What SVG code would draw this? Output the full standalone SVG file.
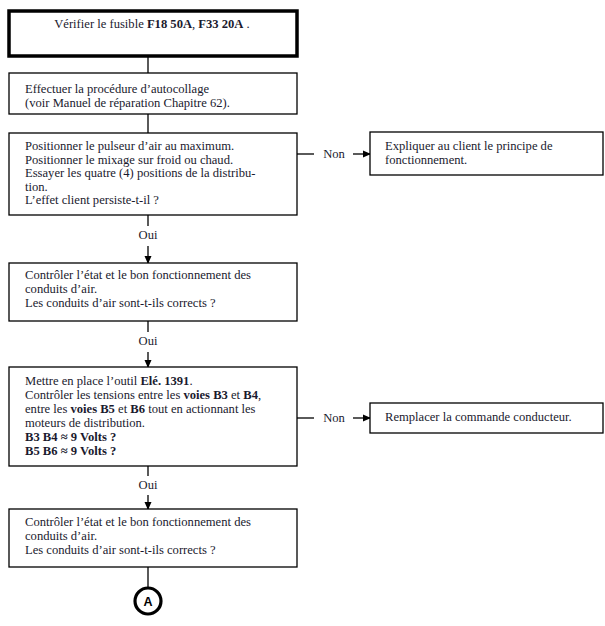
<svg xmlns="http://www.w3.org/2000/svg" width="605" height="626" viewBox="0 0 605 626">
<style>
.box{fill:#fff;stroke:#000;stroke-width:1.3}
.thick{fill:#fff;stroke:#000;stroke-width:3.5}
text{font-family:"Liberation Serif","Times New Roman",serif;font-size:12.6px;fill:#1a1a2e}
.b{font-weight:bold}
.c{stroke:#000;stroke-width:1.3;fill:none}
</style>
<defs>
<marker id="ah" markerWidth="8" markerHeight="8" refX="7" refY="4" orient="auto" markerUnits="userSpaceOnUse">
<path d="M0,0.5 L8,4 L0,7.5 Z" fill="#000"/>
</marker>
</defs>
<rect width="605" height="626" fill="#fff"/>
<g id="connectors">
<line class="c" x1="148" y1="56" x2="148" y2="73"/>
<line class="c" x1="148" y1="114" x2="148" y2="133"/>
<line class="c" x1="148" y1="215" x2="148" y2="226"/>
<line class="c" x1="148" y1="246" x2="148" y2="263" marker-end="url(#ah)"/>
<line class="c" x1="148" y1="321" x2="148" y2="332"/>
<line class="c" x1="148" y1="352" x2="148" y2="367" marker-end="url(#ah)"/>
<line class="c" x1="148" y1="466" x2="148" y2="476"/>
<line class="c" x1="148" y1="495" x2="148" y2="509" marker-end="url(#ah)"/>
<line class="c" x1="148" y1="567" x2="148" y2="588"/>
<line class="c" x1="297" y1="154" x2="314" y2="154"/>
<line class="c" x1="353" y1="154" x2="370" y2="154" marker-end="url(#ah)"/>
<line class="c" x1="297" y1="418" x2="314" y2="418"/>
<line class="c" x1="353" y1="418" x2="370" y2="418" marker-end="url(#ah)"/>
<text x="148" y="239" text-anchor="middle">Oui</text>
<text x="148" y="345" text-anchor="middle">Oui</text>
<text x="148" y="489" text-anchor="middle">Oui</text>
<text x="334" y="158" text-anchor="middle">Non</text>
<text x="334" y="422" text-anchor="middle">Non</text>
</g>
<g id="n1">
<rect class="thick" x="9" y="11" width="288" height="45"/>
<text x="152" y="28" text-anchor="middle">Vérifier le fusible <tspan class="b">F18 50A</tspan>, <tspan class="b">F33 20A</tspan> .</text>
</g>
<g id="n2">
<rect class="box" x="9" y="73" width="288" height="41"/>
<text x="25" y="93">Effectuer la procédure d’autocollage</text>
<text x="25" y="106.5">(voir Manuel de réparation Chapitre 62).</text>
</g>
<g id="n3">
<rect class="box" x="9" y="133" width="288" height="82"/>
<text x="25" y="150">Positionner le pulseur d’air au maximum.</text>
<text x="25" y="163.5">Positionner le mixage sur froid ou chaud.</text>
<text x="25" y="177">Essayer les quatre (4) positions de la distribu-</text>
<text x="25" y="190.5">tion.</text>
<text x="25" y="204">L’effet client persiste-t-il ?</text>
</g>
<g id="n3r">
<rect class="box" x="370" y="132" width="233" height="43"/>
<text x="385" y="150">Expliquer au client le principe de</text>
<text x="385" y="163.5">fonctionnement.</text>
</g>
<g id="n4">
<rect class="box" x="9" y="263" width="288" height="58"/>
<text x="25" y="279">Contrôler l’état et le bon fonctionnement des</text>
<text x="25" y="293">conduits d’air.</text>
<text x="25" y="307">Les conduits d’air sont-t-ils corrects ?</text>
</g>
<g id="n5">
<rect class="box" x="9" y="367" width="288" height="99"/>
<text x="25" y="385">Mettre en place l’outil <tspan class="b">Elé. 1391</tspan>.</text>
<text x="25" y="399">Contrôler les tensions entre les <tspan class="b">voies B3</tspan> et <tspan class="b">B4</tspan>,</text>
<text x="25" y="413">entre les <tspan class="b">voies B5</tspan> et <tspan class="b">B6</tspan> tout en actionnant les</text>
<text x="25" y="427">moteurs de distribution.</text>
<text x="25" y="441" class="b">B3 B4 ≈ 9 Volts ?</text>
<text x="25" y="455" class="b">B5 B6 ≈ 9 Volts ?</text>
</g>
<g id="n5r">
<rect class="box" x="370" y="403" width="233" height="30"/>
<text x="385" y="421">Remplacer la commande conducteur.</text>
</g>
<g id="n6">
<rect class="box" x="9" y="509" width="288" height="58"/>
<text x="25" y="526">Contrôler l’état et le bon fonctionnement des</text>
<text x="25" y="540">conduits d’air.</text>
<text x="25" y="554">Les conduits d’air sont-t-ils corrects ?</text>
</g>
<g id="nA">
<circle cx="148" cy="601" r="13" fill="#fff" stroke="#000" stroke-width="3.2"/>
<text x="148" y="605.5" text-anchor="middle" style="font-family:'Liberation Sans',Arial,sans-serif;font-size:12.5px;font-weight:bold;fill:#000">A</text>
</g>
</svg>
